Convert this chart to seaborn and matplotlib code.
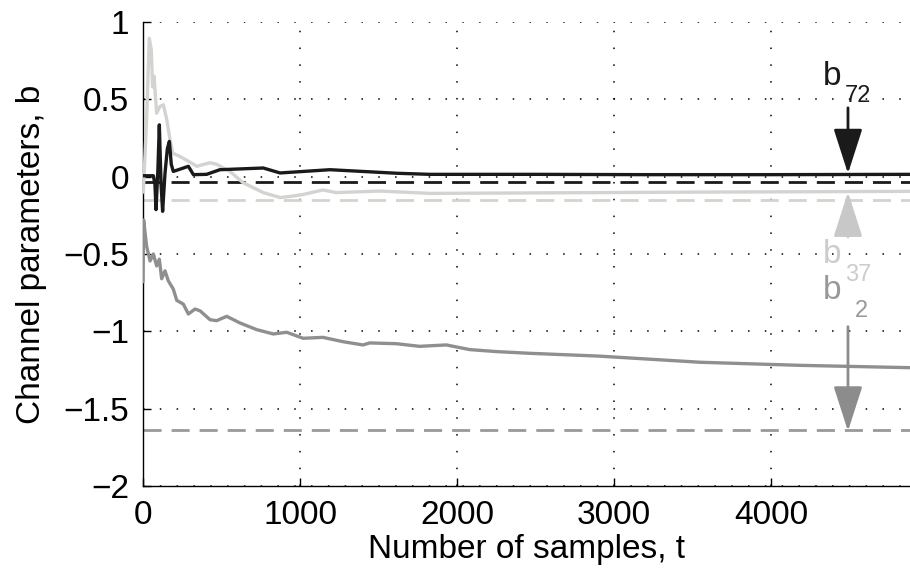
import numpy as np
import pandas as pd
import matplotlib
matplotlib.use("Agg")
import matplotlib.pyplot as plt
import seaborn as sns

# estimated parameter traces (samples t, value)
t_b72 = [0, 66, 76, 83, 95, 104, 115, 125, 140, 155, 168, 180, 193, 240, 289, 321, 405, 490, 766, 873, 1191, 1617, 1828, 2500, 3200, 4000, 4885]
v_b72 = [0.006, 0.006, -0.05, -0.213, 0.05, 0.335, -0.05, -0.224, 0.02, 0.18, 0.228, 0.08, 0.034, 0.05, 0.067, 0.013, 0.015, 0.045, 0.056, 0.024, 0.045, 0.022, 0.015, 0.015, 0.013, 0.013, 0.015]

t_b37 = [2, 23, 40, 53, 61, 70, 87, 108, 130, 151, 172, 189, 236, 289, 342, 427, 469, 554, 637, 766, 873, 958, 1020, 1146, 1230, 1507, 1828, 2500, 3500, 4885]
v_b37 = [-0.10, 0.37, 0.895, 0.82, 0.58, 0.65, 0.41, 0.454, 0.465, 0.37, 0.24, 0.153, 0.13, 0.10, 0.067, 0.09, 0.08, 0.034, -0.039, -0.103, -0.135, -0.125, -0.115, -0.086, -0.103, -0.093, -0.108, -0.105, -0.10, -0.095]

t_b2 = [0, 4, 13, 23, 45, 66, 87, 104, 119, 140, 161, 193, 215, 257, 289, 331, 363, 427, 469, 533, 618, 724, 830, 915, 1020, 1146, 1274, 1401, 1444, 1614, 1762, 1932, 2080, 2250, 2463, 2900, 3550, 4190, 4885]
v_b2 = [-0.68, -0.28, -0.36, -0.45, -0.545, -0.50, -0.577, -0.534, -0.66, -0.609, -0.673, -0.727, -0.80, -0.824, -0.888, -0.856, -0.867, -0.925, -0.931, -0.903, -0.946, -0.989, -1.017, -1.006, -1.045, -1.039, -1.067, -1.088, -1.075, -1.08, -1.097, -1.088, -1.118, -1.131, -1.142, -1.16, -1.20, -1.22, -1.235]

# true parameter values (dashed)
true_b72 = -0.035
true_b37 = -0.153
true_b2 = -1.641

c_b72 = "#1a1a1a"
c_b37 = "#d3d3cf"
c_b2 = "#8f8f8f"

sns.set_theme(style="ticks")
plt.rcParams["font.family"] = ["Liberation Sans", "DejaVu Sans"]
plt.rcParams["text.color"] = "black"
plt.rcParams["axes.labelcolor"] = "black"

fig = plt.figure(figsize=(9.1, 5.85), dpi=100)
ax = fig.add_axes([143 / 910, 99 / 585, 1 - 143 / 910, 464 / 585])

dash = (0, (6.5, 3.6))
ax.axhline(true_b37, color=c_b37, linewidth=2, ls=dash, zorder=2)
ax.axhline(true_b2, color="#999999", linewidth=2, ls=dash, zorder=2)
ax.axhline(true_b72, color=c_b72, linewidth=2, ls=dash, zorder=2)

sns.lineplot(x=t_b37, y=v_b37, color=c_b37, linewidth=2.4, ax=ax, zorder=3)
sns.lineplot(x=t_b2, y=v_b2, color=c_b2, linewidth=2.4, ax=ax, zorder=3)
sns.lineplot(x=t_b72, y=v_b72, color=c_b72, linewidth=2.4, ax=ax, zorder=4)

ax.set_xlim(0, 4885)
ax.set_ylim(-2, 1)
ax.set_xticks([0, 1000, 2000, 3000, 4000])
ax.set_yticks([-2, -1.5, -1, -0.5, 0, 0.5, 1])
ax.set_yticklabels(["\u22122", "\u22121.5", "\u22121", "\u22120.5", "0", "0.5", "1"])
ax.grid(True, color="black", linewidth=1.1, ls=(0, (1, 10)))
ax.tick_params(direction="in", length=6, width=1, labelsize=24, colors="black",
               labelcolor="black", pad=10)
sns.despine(ax=ax, top=True, right=True)
for s in ["left", "bottom"]:
    ax.spines[s].set_color("black")
    ax.spines[s].set_linewidth(1)

ax.set_xlabel("Number of samples, t", fontsize=24, labelpad=2, color="black")
ax.set_ylabel("Channel parameters, b", fontsize=24, labelpad=12, color="black")

# arrows and labels
def arrow(y0, y1, col):
    ax.annotate("", xy=(4490, y1), xytext=(4490, y0),
                arrowprops=dict(arrowstyle="-|>,head_length=1.4,head_width=0.45",
                                color=col, lw=2, mutation_scale=20, shrinkA=0, shrinkB=0),
                zorder=5)

arrow(0.445, 0.02, c_b72)
arrow(-0.39, -0.10, "#c8c8c8")
arrow(-0.97, -1.645, "#8c8c8c")

ax.text(4331, 0.594, "b", fontsize=24, color=c_b72)
ax.text(4471, 0.484, "72", fontsize=17, color=c_b72)
ax.text(4331, -0.555, "b", fontsize=24, color="#cccccc")
ax.text(4471, -0.677, "37", fontsize=17, color="#cccccc")
ax.text(4331, -0.79, "b", fontsize=24, color="#999999")
ax.text(4535, -0.91, "2", fontsize=17, color="#999999")

fig.savefig("out.png", dpi=100)
